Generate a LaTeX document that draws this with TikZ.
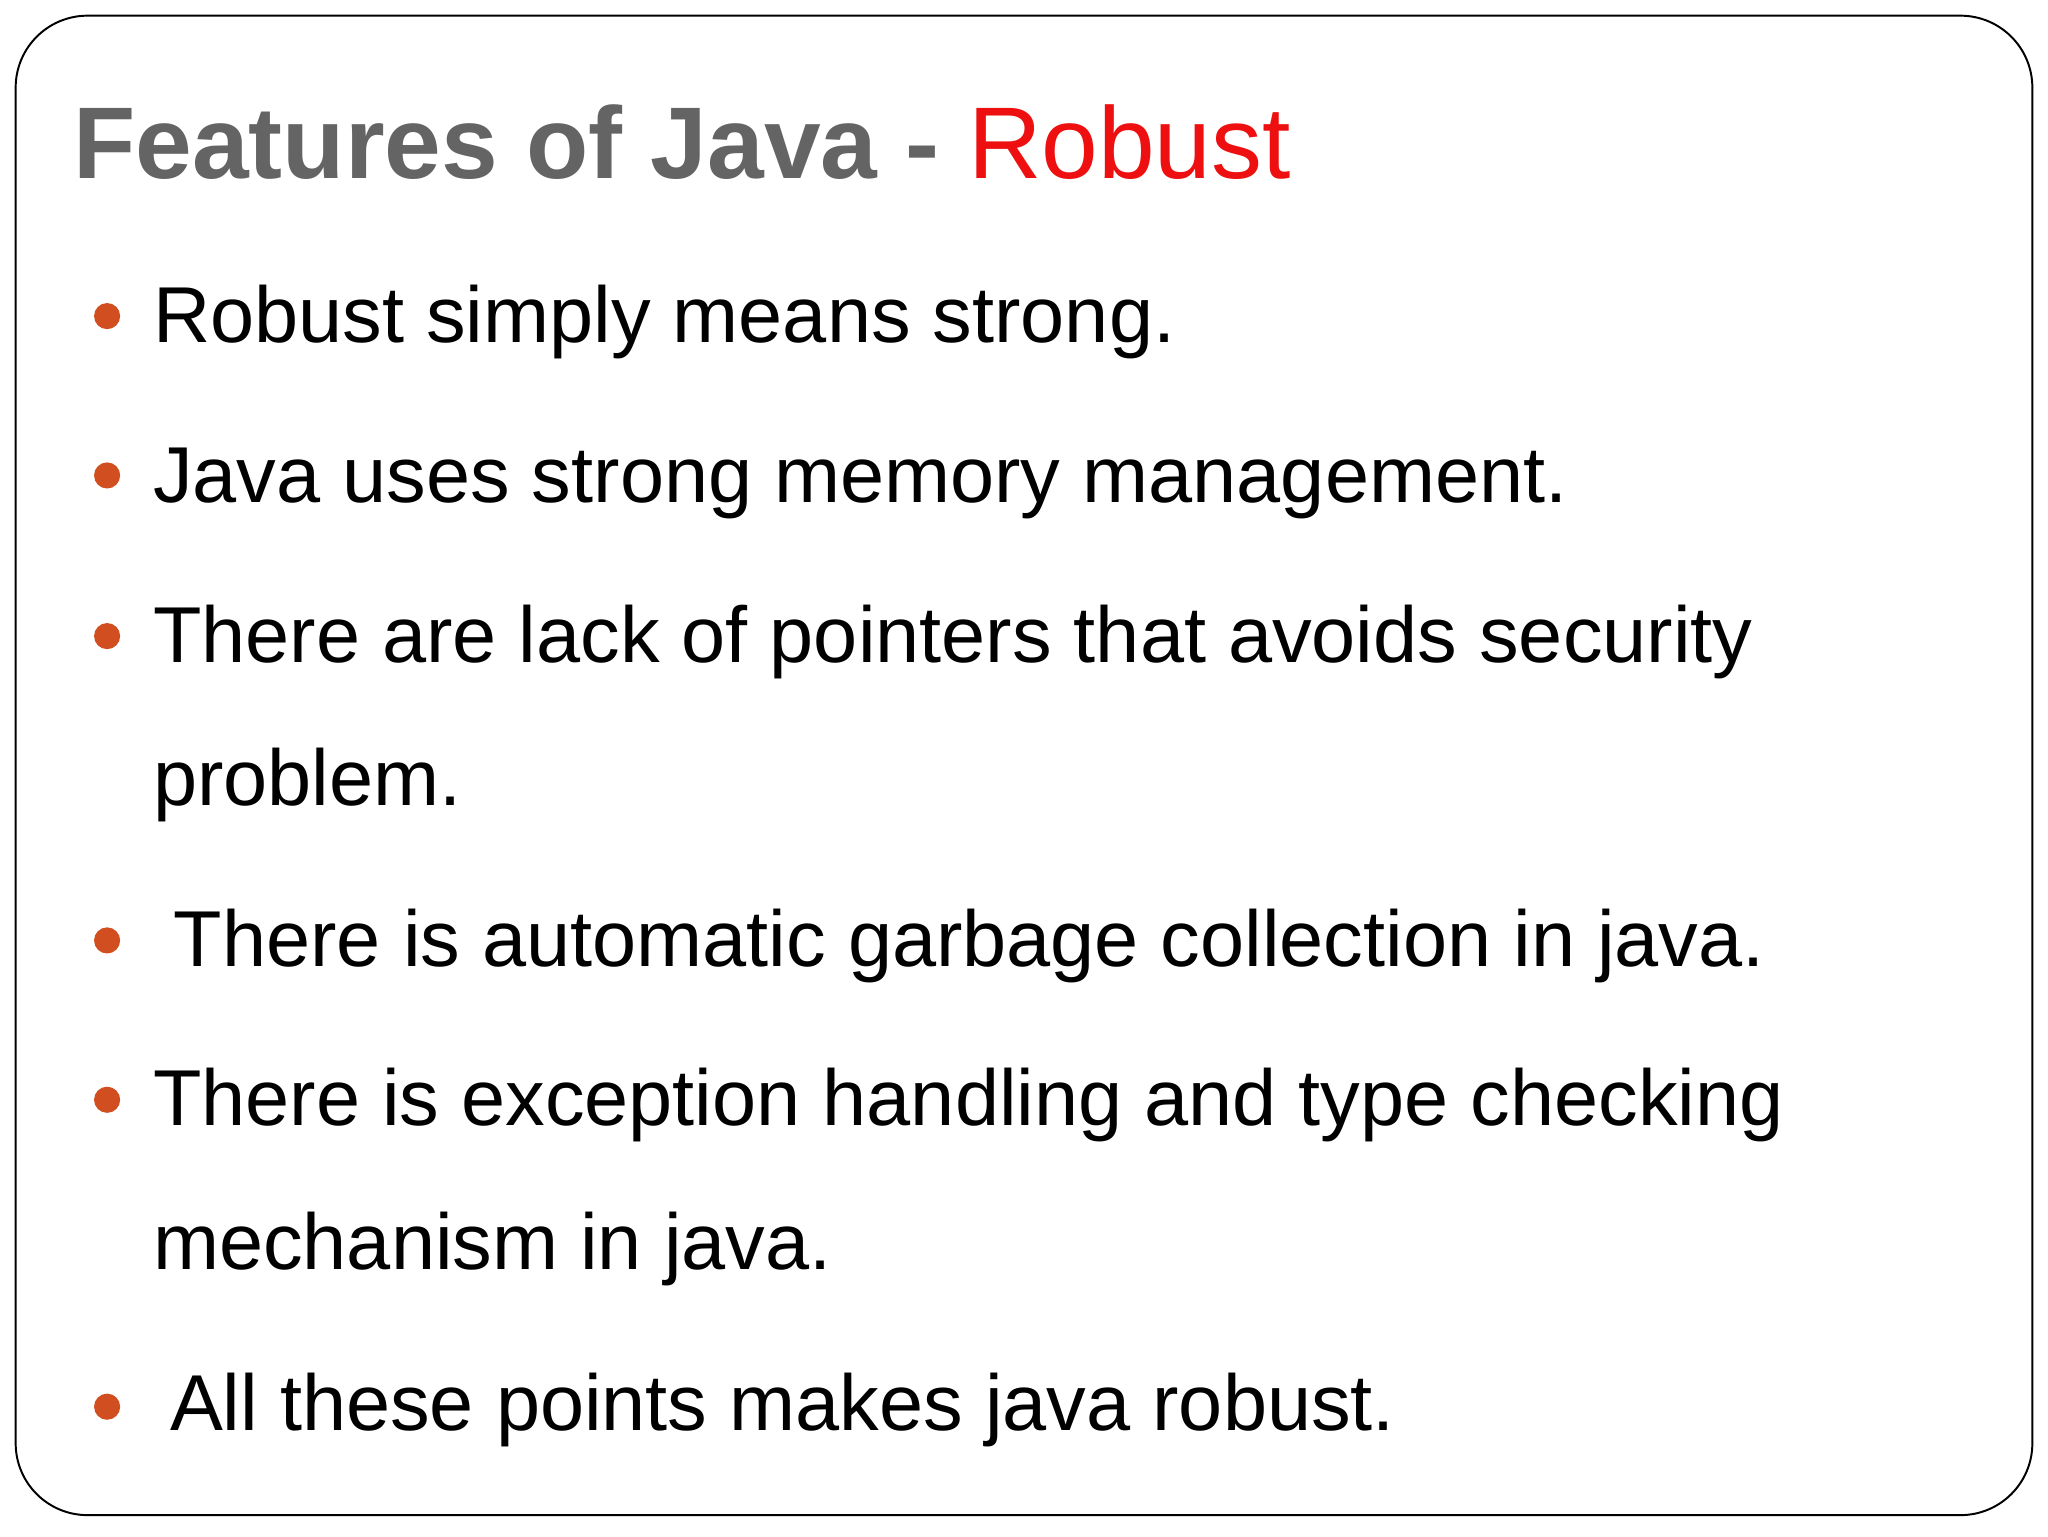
\documentclass[tikz,border=0pt]{standalone}
\usepackage{fontspec}
\setmainfont{Liberation Sans}
\definecolor{titlegray}{RGB}{100,100,100}
\definecolor{bulletc}{RGB}{208,78,32}
\definecolor{robred}{RGB}{238,16,16}
\begin{document}
\begin{tikzpicture}[x=1pt,y=-1pt,
  body/.style={anchor=base west,inner sep=0pt,font=\fontsize{60.7}{66}\selectfont},
  bul/.style={circle,fill=bulletc,inner sep=0pt,minimum size=20pt}]
\useasboundingbox (0,0) rectangle (1568,1176);
\fill[white] (0,0) rectangle (1568,1176);
\draw[line width=1.5pt,rounded corners=55pt] (12,12) rectangle (1556,1160);
\node[anchor=base west,inner sep=0pt,font=\fontsize{78}{83}\selectfont\bfseries,text=titlegray] (title) at (56,137) {Features of Java - \textcolor{robred}{\mdseries Robust}};
\node[body] (l1) at (117,262) {Robust simply means strong.};
\node[body] (l2) at (117,385) {Java uses strong memory management.};
\node[body] (l3) at (117,507) {There are lack of pointers that avoids security};
\node[body] (l3b) at (117,617) {problem.};
\node[body] (l4) at (133,740) {There is automatic garbage collection in java.};
\node[body] (l5) at (117,862) {There is exception handling and type checking};
\node[body] (l5b) at (117,972) {mechanism in java.};
\node[body] (l6) at (130,1095) {All these points makes java robust.};
\foreach \n/\y in {b1/242,b2/364,b3/487,b4/720,b5/842,b6/1077}
  \node[bul] (\n) at (82,\y) {};
\end{tikzpicture}
\end{document}
